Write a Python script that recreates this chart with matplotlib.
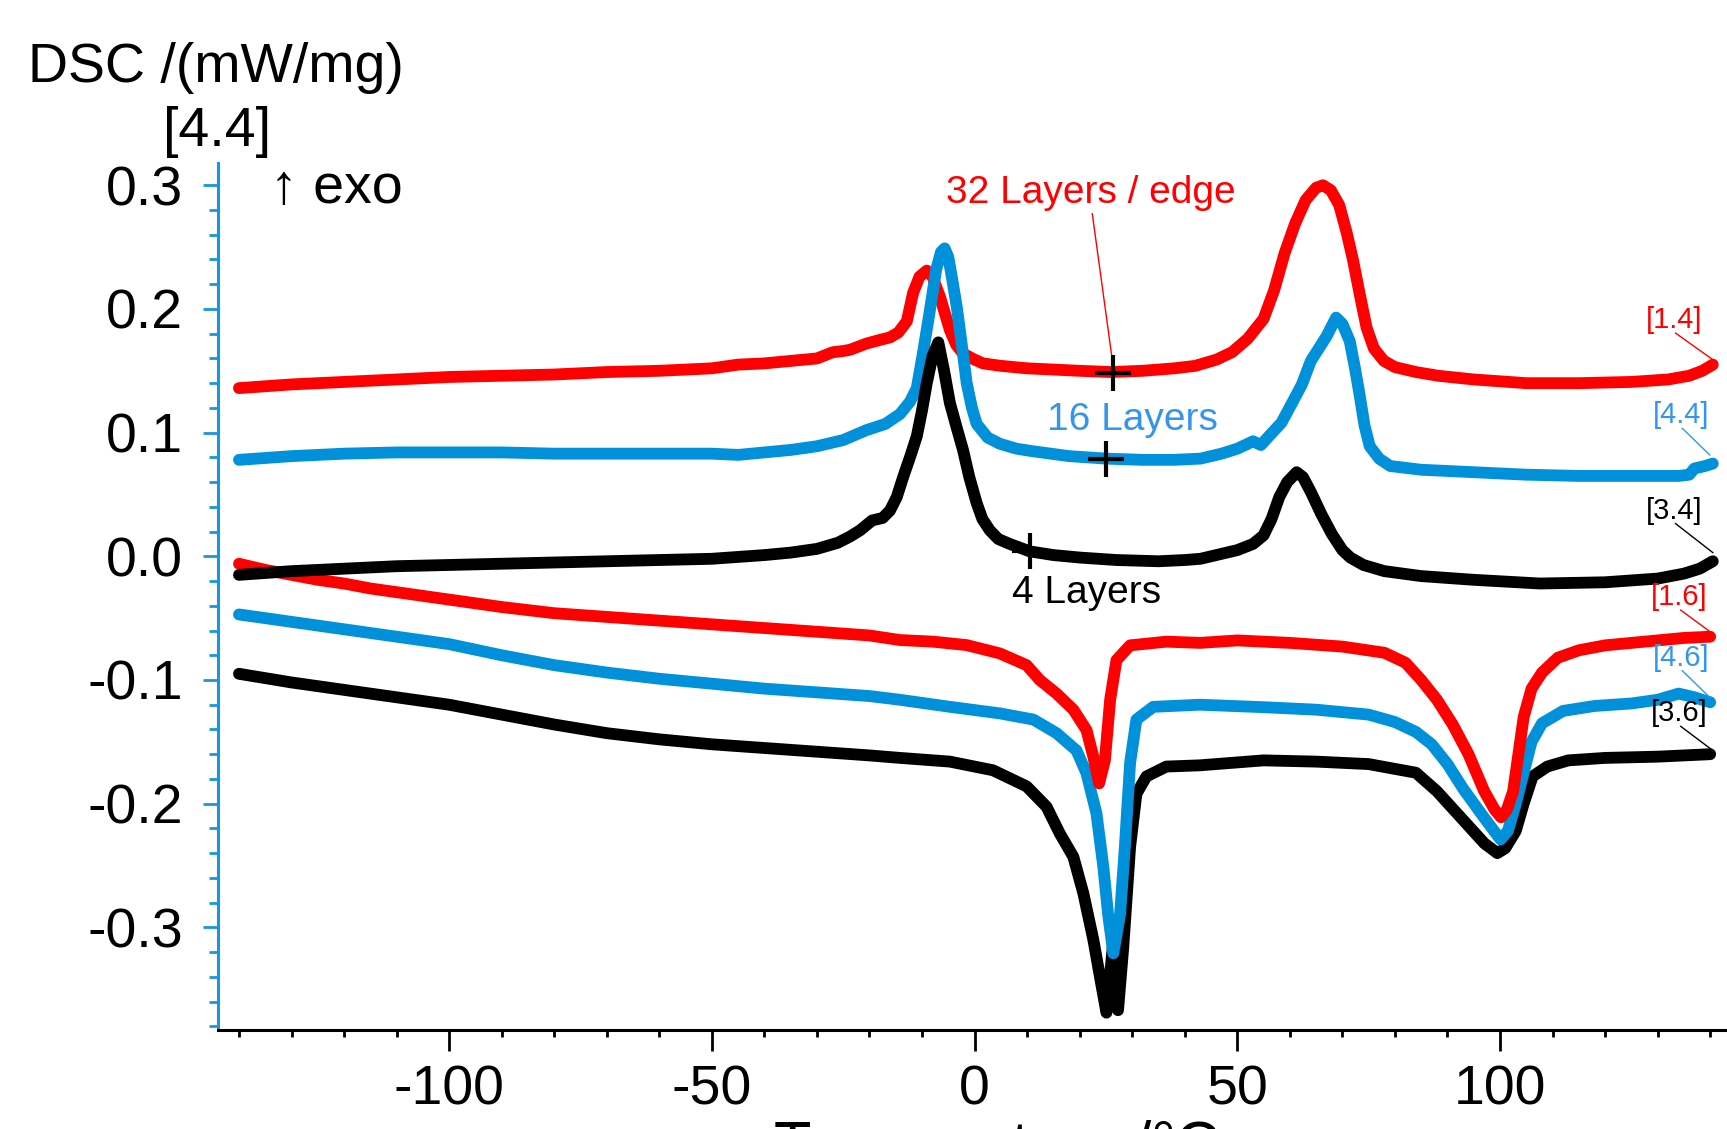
import numpy as np
import matplotlib
matplotlib.use('Agg')
import matplotlib.pyplot as plt
from matplotlib.ticker import MultipleLocator, FormatStrFormatter

plt.rcParams['font.family'] = ['Liberation Sans', 'DejaVu Sans']
plt.rcParams['axes.unicode_minus'] = False

RED = '#ff0000'
BLUE = '#0091da'
BLUE_TXT = '#3396ec'
BLACK = '#000000'
AXIS_BLUE = '#1a96dc'

# cooling segments (exothermic, upper group) -- temperature [degC], DSC [mW/mg]
t_cool_32 = [-140, -130, -120, -110, -100, -90, -80, -70, -60, -50, -45, -40, -35, -30, -27, -25,
             -23.7, -20.6, -18, -16.1, -14.5, -12.9, -11.7, -10.5, -9.1, -8, -6.6, -4.7, -3.5, -2.2,
             0, 1.6, 5, 10, 20, 26, 32, 38, 42, 46, 49, 52, 55, 57, 59, 61, 63, 65, 66.3, 67.8,
             69.4, 70.8, 72, 73.3, 74.6, 76, 77.9, 80, 84, 88.2, 95, 105, 115, 125, 132, 136,
             138.5, 140.5]
dsc_cool_32 = [0.136, 0.139, 0.141, 0.143, 0.145, 0.146, 0.147, 0.149, 0.150, 0.152, 0.155, 0.156,
               0.158, 0.160, 0.165, 0.166, 0.167, 0.172, 0.175, 0.177, 0.181, 0.190, 0.213, 0.226,
               0.231, 0.226, 0.210, 0.183, 0.171, 0.164, 0.159, 0.156, 0.154, 0.152, 0.150, 0.149,
               0.150, 0.152, 0.154, 0.159, 0.165, 0.176, 0.192, 0.215, 0.245, 0.269, 0.288, 0.298,
               0.300, 0.296, 0.284, 0.262, 0.240, 0.212, 0.185, 0.168, 0.158, 0.153, 0.149, 0.146,
               0.143, 0.140, 0.140, 0.141, 0.143, 0.146, 0.150, 0.155]

t_cool_16 = [-140, -130, -120, -110, -100, -90, -80, -70, -60, -50, -45, -40, -35, -30, -25, -20.6,
             -17, -14.2, -12.3, -11, -9.8, -8.5, -7.3, -6.4, -5.7, -5, -4.3, -3.4, -2.4, -1.5, -0.5,
             0.4, 2.5, 4.8, 8, 11, 18, 25, 32, 38, 43, 47, 50, 53, 54.5, 56, 58.4, 60.3, 62.3, 64,
             65.5, 67, 68.8, 70, 71.4, 72.4, 73.3, 74.2, 75.2, 77, 79.1, 85, 95, 105, 115, 125, 134,
             136, 137, 139, 140.5]
dsc_cool_16 = [0.078, 0.081, 0.083, 0.084, 0.084, 0.084, 0.083, 0.083, 0.083, 0.083, 0.082, 0.084,
               0.086, 0.089, 0.094, 0.102, 0.107, 0.115, 0.125, 0.136, 0.165, 0.199, 0.232, 0.246,
               0.249, 0.242, 0.225, 0.202, 0.170, 0.140, 0.120, 0.107, 0.096, 0.091, 0.087, 0.085,
               0.081, 0.079, 0.078, 0.078, 0.079, 0.083, 0.087, 0.093, 0.090, 0.097, 0.108, 0.123,
               0.139, 0.158, 0.168, 0.178, 0.193, 0.188, 0.174, 0.152, 0.130, 0.106, 0.089, 0.079,
               0.073, 0.070, 0.068, 0.066, 0.065, 0.065, 0.065, 0.066, 0.071, 0.073, 0.075]

t_cool_4 = [-140, -130, -120, -110, -100, -90, -80, -70, -60, -50, -40, -35, -30, -26, -23.7, -21.8,
            -19.5, -17.5, -16.1, -14.8, -13.6, -12.3, -11, -10, -9.1, -8, -6.9, -5.8, -4.7, -3.4,
            -2.2, -1, 0.4, 1.5, 2.9, 4.5, 6.7, 10.5, 15, 20, 27, 35, 40, 43, 46, 50, 53, 55, 56.5,
            58, 59.5, 61.3, 62.5, 64, 66, 68, 70, 71.5, 74, 78, 85, 95, 107.6, 120, 130, 135, 138,
            140.5]
dsc_cool_4 = [-0.015, -0.012, -0.010, -0.008, -0.007, -0.006, -0.005, -0.004, -0.003, -0.002, 0.001,
              0.003, 0.006, 0.011, 0.016, 0.021, 0.029, 0.031, 0.037, 0.048, 0.064, 0.080, 0.097,
              0.118, 0.140, 0.162, 0.173, 0.150, 0.124, 0.104, 0.086, 0.064, 0.043, 0.030, 0.021,
              0.014, 0.010, 0.004, 0.001, -0.001, -0.003, -0.004, -0.003, -0.002, 0.001, 0.005,
              0.010, 0.017, 0.030, 0.048, 0.060, 0.068, 0.064, 0.052, 0.034, 0.018, 0.005, -0.001,
              -0.007, -0.012, -0.016, -0.019, -0.022, -0.021, -0.018, -0.014, -0.010, -0.004]

# heating segments (endothermic, lower group)
t_heat_32 = [-140, -135, -130, -125, -120, -115, -110, -105, -100, -90, -80, -70, -60, -50, -40,
             -30, -20, -14.2, -7.9, -1.5, 4.8, 9.9, 12.4, 15.6, 18.8, 21.3, 22.6, 23.7, 24.8, 25.8,
             27, 29.6, 36.5, 42.9, 50, 60, 70, 78, 82, 85, 88, 91, 94, 97, 99, 100.2, 101.3, 102.5,
             103.5, 104.5, 106, 108, 111, 115, 120, 125, 130, 135, 140]
dsc_heat_32 = [-0.006, -0.011, -0.015, -0.019, -0.022, -0.026, -0.029, -0.032, -0.035, -0.041,
               -0.046, -0.049, -0.052, -0.055, -0.058, -0.061, -0.064, -0.0677, -0.069, -0.0718,
               -0.0785, -0.088, -0.100, -0.111, -0.124, -0.1405, -0.162, -0.1836, -0.165, -0.116,
               -0.084, -0.072, -0.069, -0.070, -0.068, -0.070, -0.073, -0.078, -0.086, -0.100,
               -0.116, -0.136, -0.160, -0.190, -0.205, -0.211, -0.205, -0.190, -0.160, -0.130,
               -0.107, -0.094, -0.082, -0.076, -0.072, -0.070, -0.068, -0.066, -0.065]

t_heat_16 = [-140, -135, -130, -120, -110, -100, -90, -80, -70, -60, -50, -40, -30, -20, -14.2,
             -4.7, 4.8, 11.2, 15.6, 19.4, 21.3, 23.2, 24.5, 25.4, 26.4, 27.7, 28.6, 29.6, 30.8, 34,
             42.9, 55, 65, 75, 80, 84, 87, 90, 93, 96.4, 98.5, 100.1, 101.5, 103, 104.5, 106, 108,
             112, 118, 125, 130, 134, 137, 140]
dsc_heat_16 = [-0.047, -0.050, -0.053, -0.059, -0.065, -0.071, -0.080, -0.088, -0.094, -0.099,
               -0.103, -0.107, -0.110, -0.113, -0.116, -0.1217, -0.127, -0.132, -0.143, -0.157,
               -0.1755, -0.208, -0.251, -0.289, -0.321, -0.289, -0.235, -0.167, -0.132, -0.1217,
               -0.120, -0.122, -0.124, -0.128, -0.134, -0.142, -0.152, -0.168, -0.188, -0.208,
               -0.220, -0.229, -0.222, -0.200, -0.175, -0.150, -0.135, -0.125, -0.121, -0.119,
               -0.116, -0.111, -0.114, -0.118]

t_heat_4 = [-140, -130, -120, -110, -100, -90, -80, -70, -60, -50, -40, -30, -20, -14.2, -4.7, 3.5,
            9.9, 13.7, 16.2, 18.8, 20.7, 22.6, 24.2, 25.1, 26.3, 27.3, 28.3, 29.6, 30.8, 32.7, 36.5,
            42.9, 55, 65, 75, 84, 88, 91, 94, 97, 99.5, 101, 103, 104.5, 106.2, 109, 113, 120, 130,
            140]
dsc_heat_4 = [-0.095, -0.102, -0.108, -0.114, -0.120, -0.128, -0.136, -0.143, -0.148, -0.152,
              -0.155, -0.158, -0.161, -0.163, -0.166, -0.173, -0.186, -0.2025, -0.224, -0.243,
              -0.2725, -0.310, -0.348, -0.369, -0.316, -0.367, -0.316, -0.235, -0.192, -0.178,
              -0.170, -0.169, -0.165, -0.166, -0.168, -0.175, -0.190, -0.204, -0.218, -0.232,
              -0.240, -0.236, -0.222, -0.200, -0.178, -0.170, -0.165, -0.163, -0.162, -0.160]

# evaluation points marked with "+"
mark_t = [26.3, 25.0, 10.5]
mark_dsc = [0.148, 0.079, 0.004]

# segment factors written at the curve ends: (text, colour, text T, text DSC, line end T, line end DSC)
end_labels = [('[1.4]', RED, 133.1, 0.191, 140.5, 0.159),
              ('[4.4]', BLUE_TXT, 134.4, 0.114, 139.9, 0.082),
              ('[3.4]', BLACK, 133.1, 0.037, 140.5, 0.003),
              ('[1.6]', RED, 134.1, -0.033, 140.3, -0.062),
              ('[4.6]', BLUE_TXT, 134.4, -0.082, 139.9, -0.114),
              ('[3.6]', BLACK, 134.1, -0.127, 140.5, -0.157)]

fig = plt.figure(figsize=(17.27, 11.29), dpi=100)
ax = fig.add_axes([0.1262, 0.0877, 0.8738, 0.7679])

lw = 8.5
line_kw = dict(lw=lw, solid_capstyle='round', solid_joinstyle='round')
ax.plot(t_heat_4, dsc_heat_4, color=BLACK, **line_kw)
ax.plot(t_heat_16, dsc_heat_16, color=BLUE, **line_kw)
ax.plot(t_heat_32, dsc_heat_32, color=RED, **line_kw)
ax.plot(t_cool_32, dsc_cool_32, color=RED, **line_kw)
ax.plot(t_cool_16, dsc_cool_16, color=BLUE, **line_kw)
ax.plot(t_cool_4, dsc_cool_4, color=BLACK, **line_kw)

ax.plot(mark_t, mark_dsc, '+', color=BLACK, ms=26, mew=3, zorder=5)

# curve names
ax.text(22.2, 0.294, '32 Layers / edge', color=RED, fontsize=28, ha='center', va='center')
ax.plot([22.4, 26.3], [0.277, 0.156], color=RED, lw=1)
ax.text(30.1, 0.110, '16 Layers', color=BLUE_TXT, fontsize=28, ha='center', va='center')
ax.text(21.3, -0.030, '4 Layers', color=BLACK, fontsize=28, ha='center', va='center')

for txt, col, tx, ty, ex, ey in end_labels:
    ax.text(tx, ty, txt, color=col, fontsize=21, ha='center', va='center')
    ax.plot([tx + 0.3, ex], [ty - 0.0105, ey], color=col, lw=1)

ax.set_xlim(-144.0, 143.2)
ax.set_ylim(-0.383, 0.318)

for side in ('top', 'right'):
    ax.spines[side].set_visible(False)
ax.spines['left'].set_color(AXIS_BLUE)
ax.spines['left'].set_linewidth(2.2)
ax.spines['bottom'].set_color(BLACK)
ax.spines['bottom'].set_linewidth(2.2)

ax.xaxis.set_major_locator(MultipleLocator(50))
ax.xaxis.set_minor_locator(MultipleLocator(10))
ax.yaxis.set_major_locator(MultipleLocator(0.1))
ax.yaxis.set_minor_locator(MultipleLocator(0.02))
ax.yaxis.set_major_formatter(FormatStrFormatter('%.1f'))

ax.tick_params(axis='x', which='major', length=15, width=2, labelsize=40, pad=10)
ax.tick_params(axis='x', which='minor', length=5, width=2)
ax.tick_params(axis='y', which='major', length=11, width=2, color=AXIS_BLUE, labelsize=40, pad=14)
ax.tick_params(axis='y', which='minor', length=6.5, width=2, color=AXIS_BLUE)

fig.text(27.5 / 1727, 1 - 68 / 1129, 'DSC /(mW/mg)', fontsize=40, ha='left', va='center')
fig.text(217 / 1727, 1 - 132 / 1129, '[4.4]', fontsize=40, ha='center', va='center')
fig.text(336 / 1727, 1 - 189 / 1129, '\u2191 exo', fontsize=40, ha='center', va='center')
fig.text(997 / 1727, 9 / 1129, 'Temperature /\u00b0C', fontsize=44, ha='center', va='top')

fig.savefig('out.png', dpi=100)
